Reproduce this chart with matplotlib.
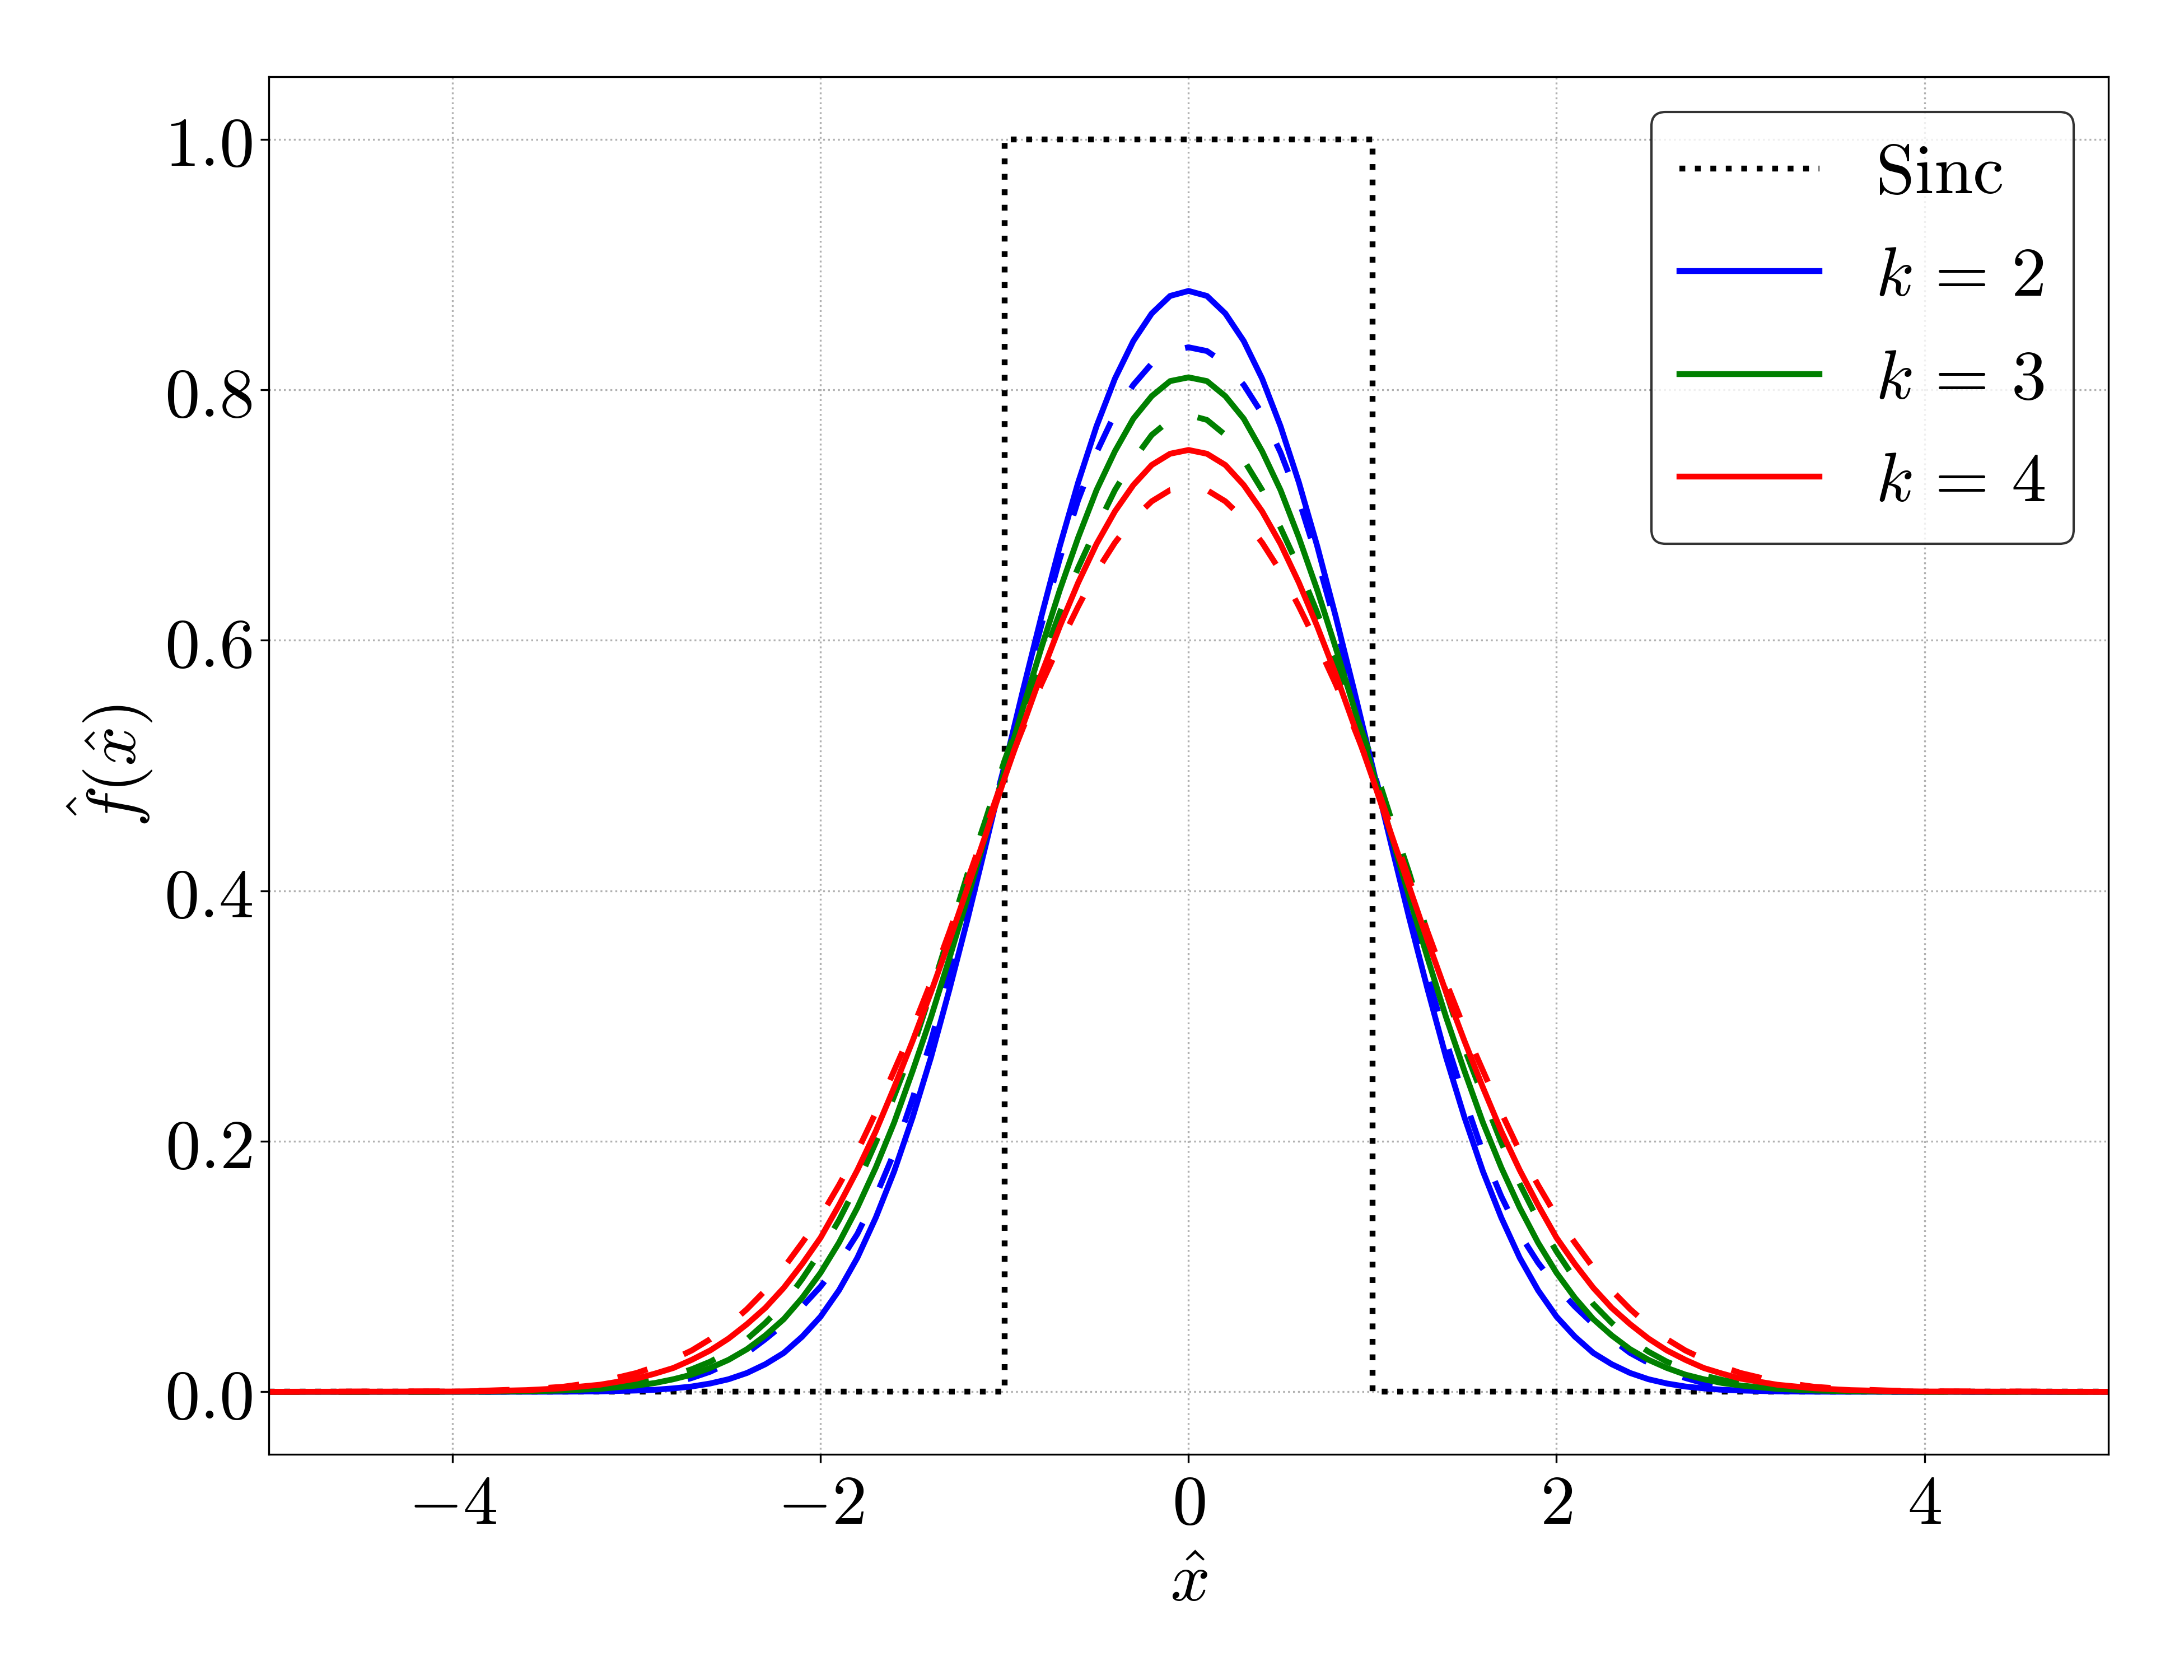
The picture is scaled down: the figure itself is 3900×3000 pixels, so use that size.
import matplotlib
matplotlib.use("Agg")
import matplotlib.pyplot as plt
from matplotlib.ticker import FuncFormatter

# values
x_vals = [-5.0, -4.0, -3.8, -3.6, -3.4, -3.2,
          -3.0, -2.9, -2.8, -2.7, -2.6, -2.5, -2.4, -2.3, -2.2, -2.1,
          -2.0, -1.9, -1.8, -1.7, -1.6, -1.5, -1.4, -1.3, -1.2, -1.1,
          -1.0, -0.9, -0.8, -0.7, -0.6, -0.5, -0.4, -0.3, -0.2, -0.1,
          0.0,
          0.1, 0.2, 0.3, 0.4, 0.5, 0.6, 0.7, 0.8, 0.9, 1.0,
          1.1, 1.2, 1.3, 1.4, 1.5, 1.6, 1.7, 1.8, 1.9, 2.0,
          2.1, 2.2, 2.3, 2.4, 2.5, 2.6, 2.7, 2.8, 2.9, 3.0,
          3.2, 3.4, 3.6, 3.8, 4.0, 5.0]

k2_solid = [0.0, 0.0, 0.0, 0.0, 0.0001, 0.0003,
            0.0010, 0.0016, 0.0027, 0.0042, 0.0066, 0.010, 0.015, 0.022, 0.031, 0.044,
            0.060, 0.081, 0.107, 0.139, 0.176, 0.219, 0.267, 0.321, 0.378, 0.438,
            0.499, 0.560, 0.619, 0.675, 0.726, 0.771, 0.809, 0.839, 0.861, 0.875,
            0.879,
            0.875, 0.861, 0.839, 0.809, 0.771, 0.726, 0.675, 0.619, 0.560, 0.499,
            0.438, 0.378, 0.321, 0.267, 0.219, 0.176, 0.139, 0.107, 0.081, 0.060,
            0.044, 0.031, 0.022, 0.015, 0.010, 0.0066, 0.0042, 0.0027, 0.0016, 0.0010,
            0.0003, 0.0001, 0.0, 0.0, 0.0, 0.0]
k2_dashed = [0.0, 0.0, 0.0, 0.0002, 0.0005, 0.0012,
             0.003, 0.0046, 0.0068, 0.011, 0.016, 0.023, 0.031, 0.042, 0.054, 0.068,
             0.084, 0.103, 0.126, 0.156, 0.191, 0.234, 0.280, 0.333, 0.387, 0.444,
             0.500, 0.557, 0.612, 0.665, 0.712, 0.750, 0.781, 0.804, 0.821, 0.831,
             0.834,
             0.831, 0.821, 0.804, 0.781, 0.750, 0.712, 0.665, 0.612, 0.557, 0.500,
             0.444, 0.387, 0.333, 0.280, 0.234, 0.191, 0.156, 0.126, 0.103, 0.084,
             0.068, 0.054, 0.042, 0.031, 0.023, 0.016, 0.011, 0.0068, 0.0046, 0.003,
             0.0012, 0.0005, 0.0002, 0.0, 0.0, 0.0]
k3_solid = [0.0, 0.0, 0.0001, 0.0004, 0.001, 0.0023,
            0.005, 0.007, 0.010, 0.0137, 0.019, 0.0255, 0.034, 0.045, 0.058, 0.075,
            0.095, 0.119, 0.147, 0.179, 0.215, 0.256, 0.299, 0.346, 0.395, 0.445,
            0.496, 0.546, 0.594, 0.640, 0.682, 0.720, 0.751, 0.777, 0.795, 0.807,
            0.810,
            0.807, 0.795, 0.777, 0.751, 0.720, 0.682, 0.640, 0.594, 0.546, 0.496,
            0.445, 0.395, 0.346, 0.299, 0.256, 0.215, 0.179, 0.147, 0.119, 0.095,
            0.075, 0.058, 0.045, 0.034, 0.0255, 0.019, 0.0137, 0.010, 0.007, 0.005,
            0.0023, 0.001, 0.0004, 0.0001, 0.0, 0.0]
k3_dashed = [0.0, 0.0, 0.0002, 0.0005, 0.0013, 0.003,
             0.0066, 0.0095, 0.013, 0.018, 0.024, 0.032, 0.042, 0.055, 0.070, 0.090,
             0.112, 0.137, 0.166, 0.199, 0.236, 0.274, 0.319, 0.366, 0.414, 0.458,
             0.504, 0.544, 0.582, 0.622, 0.658, 0.690, 0.720, 0.744, 0.764, 0.776,
             0.780,
             0.776, 0.764, 0.744, 0.720, 0.690, 0.658, 0.622, 0.582, 0.544, 0.504,
             0.458, 0.414, 0.366, 0.319, 0.274, 0.236, 0.199, 0.166, 0.137, 0.112,
             0.090, 0.070, 0.055, 0.042, 0.032, 0.024, 0.018, 0.013, 0.0095, 0.0066,
             0.003, 0.0013, 0.0005, 0.0002, 0.0, 0.0]
k4_solid = [0.0, 0.0002, 0.0006, 0.0013, 0.0028, 0.0056,
            0.0105, 0.0145, 0.019, 0.0255, 0.033, 0.0425, 0.054, 0.067, 0.083, 0.102,
            0.123, 0.149, 0.177, 0.208, 0.243, 0.280, 0.319, 0.360, 0.403, 0.446,
            0.490, 0.532, 0.573, 0.611, 0.646, 0.677, 0.703, 0.724, 0.740, 0.749,
            0.752,
            0.749, 0.740, 0.724, 0.703, 0.677, 0.646, 0.611, 0.573, 0.532, 0.490,
            0.446, 0.403, 0.360, 0.319, 0.280, 0.243, 0.208, 0.177, 0.149, 0.123,
            0.102, 0.083, 0.067, 0.054, 0.0425, 0.033, 0.0255, 0.019, 0.0145, 0.0105,
            0.0056, 0.0028, 0.0013, 0.0006, 0.0002, 0.0]
k4_dashed = [0.0, 0.0004, 0.001, 0.002, 0.004, 0.008,
             0.015, 0.020, 0.026, 0.033, 0.042, 0.053, 0.066, 0.081, 0.099, 0.119,
             0.140, 0.165, 0.192, 0.223, 0.2565, 0.290, 0.327, 0.367, 0.409, 0.451,
             0.493, 0.530, 0.565, 0.597, 0.627, 0.655, 0.678, 0.697, 0.711, 0.720,
             0.7225,
             0.720, 0.711, 0.697, 0.678, 0.655, 0.627, 0.597, 0.565, 0.530, 0.493,
             0.451, 0.409, 0.367, 0.327, 0.290, 0.2565, 0.223, 0.192, 0.165, 0.140,
             0.119, 0.099, 0.081, 0.066, 0.053, 0.042, 0.033, 0.026, 0.020, 0.015,
             0.008, 0.004, 0.002, 0.001, 0.0004, 0.0]

sinc_x = [-5.0, -1.0, -1.0, 1.0, 1.0, 5.0]
sinc_y = [0.0, 0.0, 1.0, 1.0, 0.0, 0.0]

labels = [r'$\mathrm{Sinc}$', r'$k\,=\,2$', r'$k\,=\,3$', r'$k\,=\,4$']

plt.rcParams['mathtext.fontset'] = 'cm'
plt.rcParams['font.size'] = 30

fig, ax = plt.subplots(figsize=(13, 10), dpi=300)
fig.subplots_adjust(left=0.123, right=0.9654, bottom=0.1343, top=0.9543)

lw = 2.5
dash = (5.3, 6.7)
ax.plot(sinc_x, sinc_y, 'k:', lw=lw, label=labels[0])
ax.plot(x_vals, k2_solid, color='blue', lw=lw, label=labels[1])
ax.plot(x_vals, k2_dashed, color='blue', lw=lw, dashes=dash)
ax.plot(x_vals, k3_solid, color='green', lw=lw, label=labels[2])
ax.plot(x_vals, k3_dashed, color='green', lw=lw, dashes=dash)
ax.plot(x_vals, k4_solid, color='red', lw=lw, label=labels[3])
ax.plot(x_vals, k4_dashed, color='red', lw=lw, dashes=dash)

ax.set_xlim(-5, 5)
ax.set_ylim(-0.05, 1.05)
ax.set_xticks([-4, -2, 0, 2, 4])
ax.set_yticks([0.0, 0.2, 0.4, 0.6, 0.8, 1.0])
ax.xaxis.set_major_formatter(FuncFormatter(lambda v, p: r'$%d$' % round(v)))
ax.yaxis.set_major_formatter(FuncFormatter(lambda v, p: r'$%.1f$' % v))
ax.grid(linestyle=':', color='#b0b0b0', lw=0.8)

ax.set_xlabel(r'$\hat{x}$')
ax.set_ylabel(r'$\hat{f}(\hat{x})$')

ax.legend(loc='upper right', edgecolor='k', framealpha=0.8)

fig.savefig('out.png', dpi=300)
